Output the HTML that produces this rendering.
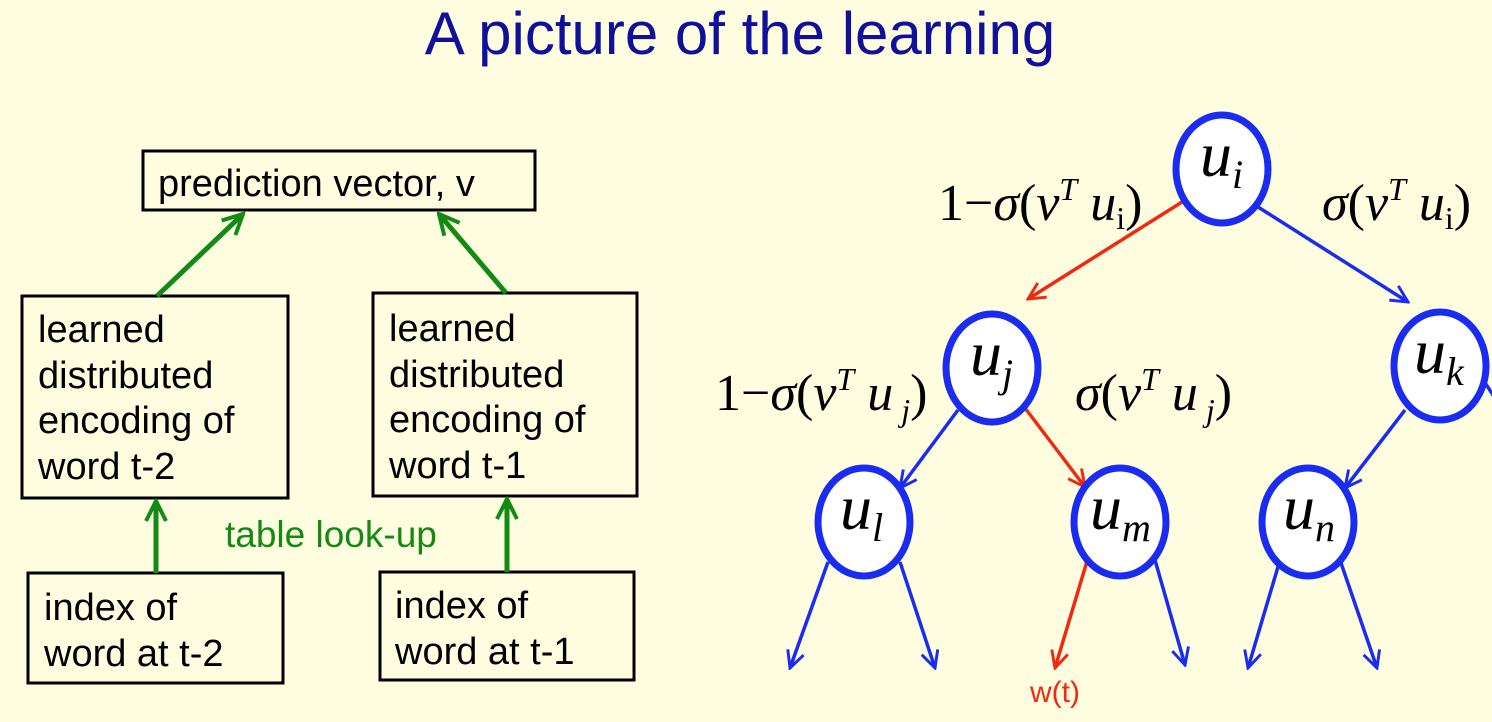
<!DOCTYPE html>
<html><head><meta charset="utf-8"><style>
html,body{margin:0;padding:0;background:#fffde0}
svg{display:block}
.s{font-family:"Liberation Sans",sans-serif}
.m{font-family:"Liberation Serif",serif;font-size:52px;fill:#000}
.n{font-family:"Liberation Serif",serif;font-style:italic;font-size:64px;fill:#000}
</style></head><body>
<svg width="1492" height="722" viewBox="0 0 1492 722" xmlns="http://www.w3.org/2000/svg">
<defs>
<marker id="g" viewBox="0 0 10 10" refX="9" refY="5" markerWidth="5" markerHeight="5" orient="auto" markerUnits="strokeWidth"><path d="M1,1 L9,5 L1,9" fill="none" stroke="#138a13" stroke-width="1.6"/></marker>
<marker id="b" viewBox="0 0 10 10" refX="9" refY="5" markerWidth="6" markerHeight="6" orient="auto" markerUnits="strokeWidth"><path d="M1,1 L9,5 L1,9" fill="none" stroke="#1a2cf0" stroke-width="1.4"/></marker>
<marker id="r" viewBox="0 0 10 10" refX="9" refY="5" markerWidth="6" markerHeight="6" orient="auto" markerUnits="strokeWidth"><path d="M1,1 L9,5 L1,9" fill="none" stroke="#f02a10" stroke-width="1.4"/></marker>
</defs>
<rect width="1492" height="722" fill="#fffde0"/>
<text x="740" y="54" text-anchor="middle" class="s" font-size="60" fill="#10109a">A picture of the learning</text>

<g fill="none" stroke="#000" stroke-width="3">
<rect x="143" y="151" width="392" height="59"/>
<rect x="22" y="296" width="266" height="202"/>
<rect x="373" y="293" width="264" height="203"/>
<rect x="28" y="573" width="255" height="110"/>
<rect x="380" y="572" width="254" height="108"/>
</g>
<g class="s" font-size="38" fill="#000">
<text x="158" y="196">prediction vector, v</text>
<text x="38" y="342">learned</text><text x="38" y="388">distributed</text><text x="38" y="433">encoding of</text><text x="38" y="479">word t-2</text>
<text x="389" y="341">learned</text><text x="389" y="387">distributed</text><text x="389" y="432">encoding of</text><text x="389" y="478">word t-1</text>
<text x="44" y="620">index of</text><text x="44" y="666">word at t-2</text>
<text x="395" y="618">index of</text><text x="395" y="664">word at t-1</text>
</g>
<g stroke="#138a13" stroke-width="5" fill="none">
<line x1="157" y1="296" x2="243" y2="214" marker-end="url(#g)"/>
<line x1="506" y1="293" x2="439" y2="214" marker-end="url(#g)"/>
<line x1="156" y1="573" x2="156" y2="501" marker-end="url(#g)"/>
<line x1="507" y1="572" x2="507" y2="499" marker-end="url(#g)"/>
</g>
<text x="225" y="547" class="s" font-size="37" fill="#138a13">table look-up</text>

<g stroke-width="3.5" fill="none">
<line x1="1190" y1="197" x2="1028" y2="299" stroke="#f02a10" marker-end="url(#r)"/>
<line x1="1258" y1="207" x2="1408" y2="302" stroke="#1a2cf0" marker-end="url(#b)"/>
<line x1="958" y1="410" x2="900" y2="488" stroke="#1a2cf0" marker-end="url(#b)"/>
<line x1="1025" y1="408" x2="1085" y2="487" stroke="#f02a10" marker-end="url(#r)"/>
<line x1="1405" y1="410" x2="1345" y2="488" stroke="#1a2cf0" marker-end="url(#b)"/>
<line x1="1478" y1="372" x2="1495" y2="398" stroke="#1a2cf0"/>
<line x1="828" y1="562" x2="790" y2="668" stroke="#1a2cf0" marker-end="url(#b)"/>
<line x1="900" y1="562" x2="935" y2="668" stroke="#1a2cf0" marker-end="url(#b)"/>
<line x1="1088" y1="558" x2="1055" y2="668" stroke="#f02a10" marker-end="url(#r)"/>
<line x1="1155" y1="560" x2="1185" y2="665" stroke="#1a2cf0" marker-end="url(#b)"/>
<line x1="1280" y1="560" x2="1248" y2="668" stroke="#1a2cf0" marker-end="url(#b)"/>
<line x1="1340" y1="560" x2="1377" y2="668" stroke="#1a2cf0" marker-end="url(#b)"/>
</g>
<g fill="#fff" stroke="#1a2cf0" stroke-width="7">
<ellipse cx="1222" cy="169" rx="46" ry="54"/>
<ellipse cx="992" cy="368" rx="46" ry="54"/>
<ellipse cx="1440" cy="366" rx="46" ry="54"/>
<ellipse cx="864" cy="522" rx="46" ry="54"/>
<ellipse cx="1120" cy="522" rx="46" ry="54"/>
<ellipse cx="1308" cy="522" rx="46" ry="54"/>
</g>
<g class="n">
<text x="1200" y="176">u<tspan font-size="40" dy="12">i</tspan></text>
<text x="970" y="375">u<tspan font-size="40" dy="12">j</tspan></text>
<text x="1414" y="373">u<tspan font-size="40" dy="12">k</tspan></text>
<text x="840" y="529">u<tspan font-size="40" dy="12">l</tspan></text>
<text x="1090" y="529">u<tspan font-size="40" dy="12">m</tspan></text>
<text x="1283" y="529">u<tspan font-size="40" dy="12">n</tspan></text>
</g>
<g class="m">
<text x="938" y="220">1−<tspan font-style="italic">σ</tspan>(<tspan font-style="italic">v</tspan><tspan font-size="32" dy="-20" font-style="italic">T</tspan><tspan dy="20" font-style="italic"> u</tspan><tspan font-size="32" dy="9">i</tspan><tspan dy="-9">)</tspan></text>
<text x="1322" y="220"><tspan font-style="italic">σ</tspan>(<tspan font-style="italic">v</tspan><tspan font-size="32" dy="-20" font-style="italic">T</tspan><tspan dy="20" font-style="italic"> u</tspan><tspan font-size="32" dy="9">i</tspan><tspan dy="-9">)</tspan></text>
<text x="715" y="410">1−<tspan font-style="italic">σ</tspan>(<tspan font-style="italic">v</tspan><tspan font-size="32" dy="-20" font-style="italic">T</tspan><tspan dy="20" font-style="italic"> u</tspan><tspan font-size="32" dy="11" font-style="italic"> j</tspan><tspan dy="-11">)</tspan></text>
<text x="1075" y="410"><tspan font-style="italic">σ</tspan>(<tspan font-style="italic">v</tspan><tspan font-size="32" dy="-20" font-style="italic">T</tspan><tspan dy="20" font-style="italic"> u</tspan><tspan font-size="32" dy="11" font-style="italic"> j</tspan><tspan dy="-11">)</tspan></text>
</g>
<text x="1030" y="702" class="s" font-size="30" fill="#f02a10">w(t)</text>
</svg>
</body></html>
